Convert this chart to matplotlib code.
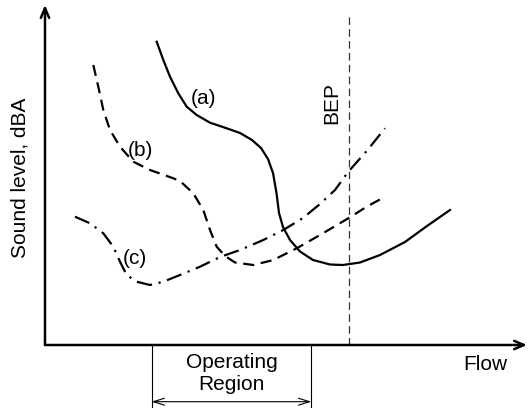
import matplotlib.pyplot as plt

plt.rcParams["font.family"] = ["Liberation Sans", "DejaVu Sans"]

# curve values: flow (x) and sound level (y), arbitrary units
flow_a = [111.7, 118.3, 125, 133.3, 141.7, 151.7, 165, 181.7, 195, 207, 216, 223, 228,
          231.5, 234, 238, 245, 255, 268, 285, 298, 315, 335, 360, 382, 405]
level_a = [303.3, 285, 268.3, 251.7, 238.3, 230, 222.3, 216.7, 212, 205, 197, 186, 172,
           152, 132, 118, 105, 93.5, 85, 80.5, 80, 82.5, 90, 103, 119, 135]

flow_b = [48.3, 53.3, 58.3, 65, 75, 88.3, 105, 128.3, 135, 148.3, 158.3, 165, 171.7,
          180, 190, 208.3, 228.3, 251.7, 275, 303.3, 321.7, 340]
level_b = [280, 258.3, 235, 215, 198.3, 183.3, 175, 166.7, 164, 151.7, 135, 115, 98.3,
           89, 82.5, 80, 85, 96.7, 110, 126.7, 138.3, 148.3]

flow_c = [30, 45, 58.3, 68.3, 75, 81.7, 91.7, 105, 118.3, 135, 155, 175, 195, 218.3,
          238.3, 258, 275, 290, 303.3, 321.7, 340]
level_c = [128.3, 121.7, 111.7, 98.3, 83.3, 70, 63.3, 60, 63.3, 70, 78.3, 88, 95, 105,
           115, 127, 141, 155, 173.3, 194, 216.7]

bep_flow = 303.5
operating_region = (106.5, 266.4)
x_max, y_max = 482, 340

fig = plt.figure(figsize=(5.28, 4.08), dpi=100)
ax = fig.add_axes([45 / 528, 63 / 408, 482 / 528, 340 / 408])
ax.set_xlim(0, x_max)
ax.set_ylim(0, y_max)
ax.axis("off")

fs = 15
lw = 1.6
ax.plot(flow_a, level_a, color="black", lw=lw, solid_joinstyle="round")
ax.plot(flow_b, level_b, color="black", lw=lw, linestyle=(0, (5, 3)),
        dash_capstyle="butt", dash_joinstyle="round")
ax.plot(flow_c, level_c, color="black", lw=lw, linestyle=(0, (7, 3, 1, 3)),
        dash_capstyle="butt", dash_joinstyle="round")

# BEP line
ax.plot([bep_flow, bep_flow], [0, 330], color="#333333", lw=0.9, linestyle=(0, (6, 3.5)))
ax.text(bep_flow - 17, 242, "BEP", rotation=90, ha="center", va="center", fontsize=fs)

# axes with arrows
arrow = dict(arrowstyle="->,head_length=0.7,head_width=0.3", lw=1.8, color="black",
             shrinkA=0, shrinkB=0)
ax.annotate("", xy=(0, y_max), xytext=(0, 0), arrowprops=arrow, annotation_clip=False)
ax.annotate("", xy=(x_max, 0), xytext=(0, 0), arrowprops=arrow, annotation_clip=False)

ax.text(-25, 167, "Sound level, dBA", rotation=90, ha="center", va="center", fontsize=fs)
ax.text(440, -19, "Flow", ha="center", va="center", fontsize=fs)

ax.text(159, 247, "(a)", ha="center", va="center", fontsize=fs)
ax.text(95, 195, "(b)", ha="center", va="center", fontsize=fs)
ax.text(90, 87, "(c)", ha="center", va="center", fontsize=fs)

# operating region bracket
lo, hi = operating_region
for f in operating_region:
    ax.plot([f, f], [0, -63], color="black", lw=0.8, clip_on=False)
ax.annotate("", xy=(hi, -56.7), xytext=(lo, -56.7),
            arrowprops=dict(arrowstyle="<->,head_length=0.8,head_width=0.25", lw=0.8,
                            color="black", shrinkA=0, shrinkB=0),
            annotation_clip=False)
mid = (lo + hi) / 2
ax.text(mid, -18, "Operating", ha="center", va="center", fontsize=fs)
ax.text(mid, -39.5, "Region", ha="center", va="center", fontsize=fs)

fig.savefig("out.png", dpi=100)
